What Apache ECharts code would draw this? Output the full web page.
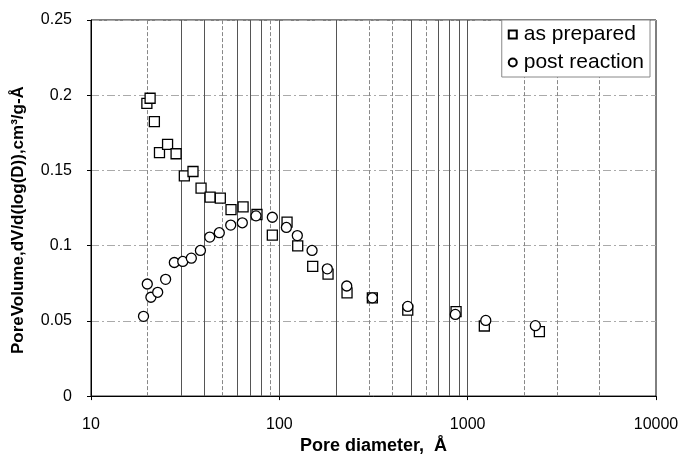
<!DOCTYPE html>
<html><head><meta charset="utf-8">
<script src="https://cdn.jsdelivr.net/npm/echarts@6/dist/echarts.min.js"></script>
<style>html,body{margin:0;padding:0;background:#fff}#c{width:683px;height:460px}</style>
</head><body><div id="c"></div>
<script>
const seriesNames = ['as prepared', 'post reaction'];
const asPreparedD = [19.8, 20.6, 21.7, 23.1, 25.5, 28.3, 31.3, 34.8, 38.4, 42.9, 48.6, 55.4, 64.2, 76.1, 91.8, 109.9, 125.2, 150.4, 181.4, 228.8, 311.8, 480.8, 867.8, 1226, 2403];
const asPreparedV = [0.1946, 0.198, 0.1825, 0.1618, 0.1673, 0.1611, 0.1464, 0.1493, 0.1383, 0.1323, 0.1316, 0.124, 0.1258, 0.1207, 0.107, 0.1156, 0.0998, 0.0862, 0.0811, 0.0686, 0.0653, 0.0572, 0.0561, 0.0466, 0.0429];
const postReactionD = [19.0, 19.9, 20.8, 22.6, 24.9, 27.7, 30.7, 34.1, 38.1, 42.7, 48.0, 55.2, 63.6, 75.2, 91.8, 109.0, 124.6, 149.2, 179.8, 228.0, 311.8, 480.8, 860, 1248, 2288];
const postReactionV = [0.053, 0.0745, 0.0657, 0.069, 0.0776, 0.0888, 0.0895, 0.0917, 0.0968, 0.1057, 0.1086, 0.1137, 0.1152, 0.1198, 0.1189, 0.1121, 0.1067, 0.0968, 0.0846, 0.0732, 0.0653, 0.0596, 0.0543, 0.0503, 0.0468];
const gridDiameters = [20, 30, 40, 50, 60, 70, 80, 90, 100, 200, 300, 400, 500, 600, 700, 800, 900, 1000, 2000, 3000, 5000];
const dashedGrid = [20, 50, 90, 300, 400, 600, 2000, 3000, 5000];
const xName = 'Pore diameter,  Å';
const yName = 'PoreVolume,dV/d(log(D)),cm³/g-Å';

const zip = (a, b) => a.map((v, i) => [v, b[i]]);
const font = 'Liberation Sans, Arial, sans-serif';

const chart = echarts.init(document.getElementById('c'), null, {renderer: 'canvas'});
chart.setOption({
  animation: false,
  backgroundColor: '#fff',
  grid: {left: 91, right: 27, top: 20, bottom: 61, show: true, borderColor: '#000', borderWidth: 1},
  legend: {
    data: seriesNames.map(n => ({name: n})),
    orient: 'vertical', right: 33, top: 20,
    backgroundColor: '#fff', borderColor: '#888', borderWidth: 1,
    padding: [4, 6, 4, 6], itemGap: 7, itemWidth: 8, itemHeight: 8,
    textStyle: {fontFamily: font, fontSize: 21, color: '#000', padding: [0, 0, 0, 2]}
  },
  xAxis: {
    type: 'log', logBase: 10, min: 10, max: 10000,
    name: xName, nameLocation: 'middle', nameGap: 40,
    nameTextStyle: {fontFamily: font, fontSize: 18, fontWeight: 'bold', color: '#000'},
    axisLine: {show: true, lineStyle: {color: '#000', width: 1}},
    axisTick: {show: true, inside: false, length: 4, lineStyle: {color: '#000'}},
    axisLabel: {fontFamily: font, fontSize: 16, color: '#000', margin: 20, formatter: v => String(Math.round(v))},
    splitLine: {show: false}
  },
  yAxis: {
    type: 'value', min: 0, max: 0.25, interval: 0.05,
    name: yName, nameLocation: 'middle', nameGap: 64,
    nameTextStyle: {fontFamily: font, fontSize: 17, fontWeight: 'bold', color: '#000', padding: [0, 24, 0, 0]},
    axisLine: {show: true, lineStyle: {color: '#000', width: 1}},
    axisTick: {show: true, inside: false, length: 4, lineStyle: {color: '#000'}},
    axisLabel: {fontFamily: font, fontSize: 16, color: '#000', margin: 19},
    splitLine: {show: true, lineStyle: {color: '#aaa', width: 1, type: [8, 3, 2, 3]}}
  },
  series: [
    {
      name: 'grid', type: 'scatter', data: [], z: 1, silent: true,
      markLine: {
        z: 1, silent: true, symbol: 'none', label: {show: false}, animation: false,
        data: gridDiameters.map(d => ({
          xAxis: d,
          lineStyle: dashedGrid.includes(d)
            ? {color: '#888', width: 1, type: [4, 2]}
            : {color: '#555', width: 1, type: 'solid'}
        }))
      }
    },
    {
      name: seriesNames[0], type: 'scatter', z: 3, symbol: 'rect', symbolSize: 10,
      itemStyle: {color: '#fff', borderColor: '#000', borderWidth: 1.3, opacity: 1},
      data: zip(asPreparedD, asPreparedV)
    },
    {
      name: seriesNames[1], type: 'scatter', z: 4, symbol: 'circle', symbolSize: 10,
      itemStyle: {color: '#fff', borderColor: '#000', borderWidth: 1.3, opacity: 1},
      data: zip(postReactionD, postReactionV)
    }
  ]
});
</script></body></html>
